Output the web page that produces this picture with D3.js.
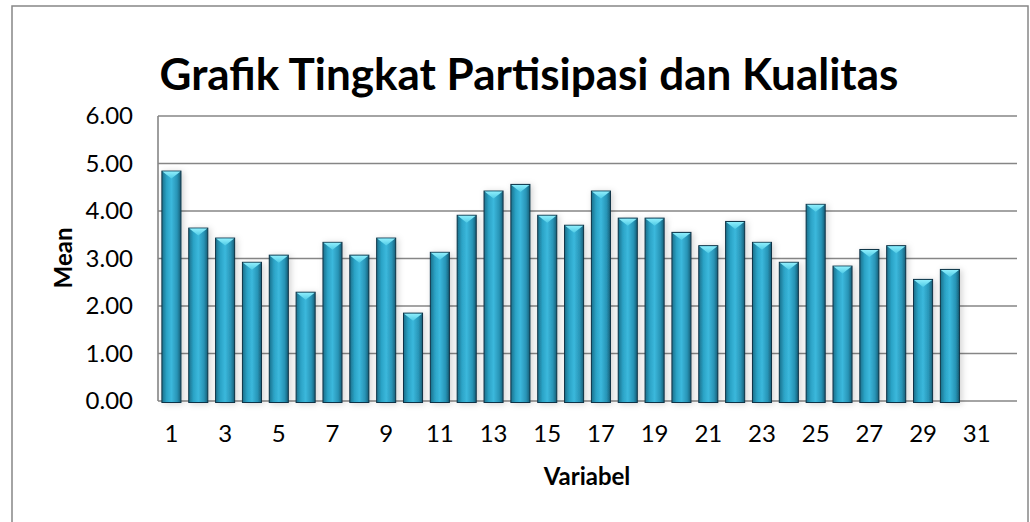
<!DOCTYPE html>
<html>
<head>
<meta charset="utf-8">
<script src="https://cdn.jsdelivr.net/npm/d3@7"></script>
<style>
  body { margin: 0; background: #fff; }
  svg { display: block; }
  text { font-family: Lato, "Open Sans", sans-serif; fill: #000; }
</style>
</head>
<body>
<div id="chart-area"></div>
<script>
// data
var categories = ["1","2","3","4","5","6","7","8","9","10","11","12","13","14","15","16",
                  "17","18","19","20","21","22","23","24","25","26","27","28","29","30","31","32"];
var means = [4.84, 3.64, 3.43, 2.92, 3.07, 2.29, 3.34, 3.07, 3.43, 1.85,
             3.13, 3.91, 4.42, 4.56, 3.91, 3.70, 4.42, 3.85, 3.85, 3.55,
             3.27, 3.78, 3.34, 2.92, 4.14, 2.84, 3.19, 3.27, 2.56, 2.77, null, null];
var yTicks = [0, 1, 2, 3, 4, 5, 6];
var xTickLabels = ["1","3","5","7","9","11","13","15","17","19","21","23","25","27","29","31"];

var W = 1030, H = 522;
var margin = { left: 158, right: 13, top: 116, bottom: 121 };
var width = W - margin.left - margin.right,
    height = H - margin.top - margin.bottom;

var svg = d3.select("#chart-area").append("svg")
    .attr("width", W)
    .attr("height", H);

var defs = svg.append("defs");

// cylinder-ish gradient for the bars
var grad = defs.append("linearGradient").attr("id", "barGrad")
    .attr("x1", "0%").attr("x2", "100%").attr("y1", "0%").attr("y2", "0%");
grad.append("stop").attr("offset", "0%").attr("stop-color", "#1b6f8a");
grad.append("stop").attr("offset", "25%").attr("stop-color", "#2ba3c6");
grad.append("stop").attr("offset", "50%").attr("stop-color", "#3bb8dc");
grad.append("stop").attr("offset", "80%").attr("stop-color", "#2894b6");
grad.append("stop").attr("offset", "100%").attr("stop-color", "#175d76");

var capGrad = defs.append("linearGradient").attr("id", "capGrad")
    .attr("x1", "0%").attr("x2", "0%").attr("y1", "0%").attr("y2", "100%");
capGrad.append("stop").attr("offset", "0%").attr("stop-color", "#8eeefc");
capGrad.append("stop").attr("offset", "100%").attr("stop-color", "#4fcbe6");

var shadow = defs.append("filter").attr("id", "shadow")
    .attr("x", "-50%").attr("y", "-10%").attr("width", "200%").attr("height", "120%");
shadow.append("feDropShadow")
    .attr("dx", 2).attr("dy", 1).attr("stdDeviation", 3)
    .attr("flood-color", "#000").attr("flood-opacity", 0.18);

// outer frame
svg.append("rect")
    .attr("x", 12).attr("y", 6)
    .attr("width", 1016).attr("height", 530)
    .attr("fill", "none")
    .attr("stroke", "#878787")
    .attr("stroke-width", 1.5);

var g = svg.append("g")
    .attr("transform", "translate(" + margin.left + "," + margin.top + ")");

var x = d3.scaleBand()
    .domain(categories)
    .range([0, width])
    .paddingInner(0.29)
    .paddingOuter(0.145);

var y = d3.scaleLinear()
    .domain([0, 6])
    .range([height, 0]);

// gridlines
g.selectAll("line.grid")
    .data(yTicks)
    .join("line")
        .attr("class", "grid")
        .attr("x1", 0).attr("x2", width)
        .attr("y1", d => y(d)).attr("y2", d => y(d))
        .attr("stroke", "#868686")
        .attr("stroke-width", 1.6);

// y axis
var yAxis = d3.axisLeft(y).tickValues(yTicks).tickFormat(d3.format(".2f")).tickSize(0).tickPadding(25);
var yG = g.append("g").call(yAxis);
yG.select(".domain").remove();
yG.selectAll("text").style("font-size", "24px").style("font-family", "Lato, sans-serif");

g.append("line")
    .attr("x1", 0).attr("x2", 0)
    .attr("y1", 0).attr("y2", height)
    .attr("stroke", "#868686")
    .attr("stroke-width", 1.6);

// bars
var data = categories.map((c, i) => ({ cat: c, v: means[i] })).filter(d => d.v != null);

var bars = g.selectAll("g.bar")
    .data(data)
    .join("g")
        .attr("class", "bar")
        .attr("filter", "url(#shadow)");

bars.append("rect")
    .attr("x", d => x(d.cat))
    .attr("y", d => y(d.v))
    .attr("width", x.bandwidth())
    .attr("height", d => height - y(d.v) + 1.5)
    .attr("fill", "url(#barGrad)")
    .attr("stroke", "#0f3346")
    .attr("stroke-width", 1);

// bevel cap on top of each bar
bars.append("path")
    .attr("d", d => {
        var x0 = x(d.cat) + 0.5, x1 = x(d.cat) + x.bandwidth() - 0.5, t = y(d.v) + 0.5;
        var xm = (x0 + x1) / 2;
        return "M" + x0 + "," + t + "L" + x1 + "," + t + "L" + xm + "," + (t + 7) + "Z";
    })
    .attr("fill", "url(#capGrad)");

// x axis labels
var xAxis = d3.axisBottom(x).tickValues(xTickLabels).tickSize(0).tickPadding(24);
var xG = g.append("g")
    .attr("transform", "translate(0," + height + ")")
    .call(xAxis);
xG.select(".domain").remove();
xG.selectAll("text").style("font-size", "24px").style("font-family", "Lato, sans-serif");

// title
svg.append("text")
    .attr("x", 529)
    .attr("y", 90)
    .attr("text-anchor", "middle")
    .style("font-size", "44px")
    .style("font-weight", "bold")
    .text("Grafik Tingkat Partisipasi dan Kualitas");

// axis titles
svg.append("text")
    .attr("x", 587)
    .attr("y", 485)
    .attr("text-anchor", "middle")
    .style("font-size", "24px")
    .style("font-weight", "bold")
    .text("Variabel");

svg.append("text")
    .attr("transform", "translate(72,258) rotate(-90)")
    .attr("text-anchor", "middle")
    .style("font-size", "24px")
    .style("font-weight", "bold")
    .text("Mean");
</script>
</body>
</html>
